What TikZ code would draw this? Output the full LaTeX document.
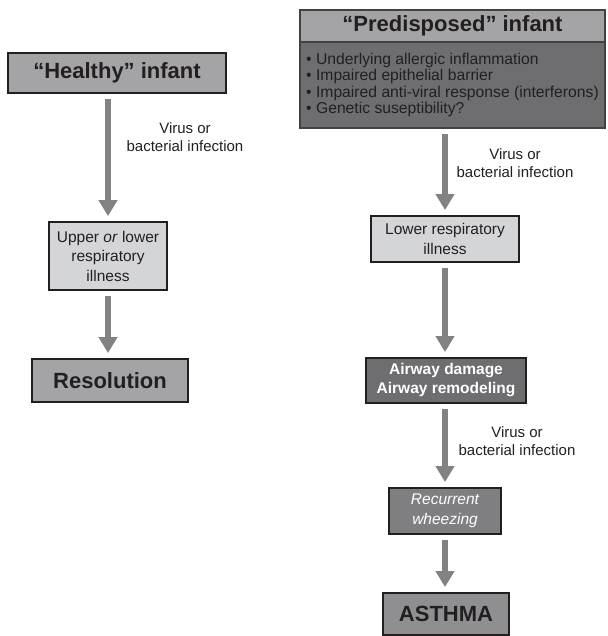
\documentclass[tikz,border=0pt]{standalone}
\usepackage{fontspec}
\setmainfont{Liberation Sans}
\usetikzlibrary{arrows.meta,positioning}
\definecolor{ink}{HTML}{231F20}
\definecolor{arrowgray}{HTML}{828285}
\definecolor{midgray}{HTML}{A4A4A7}
\definecolor{lightgray}{HTML}{D4D5D7}
\definecolor{darkgray}{HTML}{6E6E71}
\definecolor{wheezegray}{HTML}{7F7F82}
\definecolor{asthmagray}{HTML}{8F8F92}
\tikzset{
  box/.style={draw=ink,line width=1.8pt,align=center,inner sep=2pt,text=ink,
    font=\fontsize{15.5}{19.5}\selectfont},
  headbox/.style={box,font=\bfseries\fontsize{22}{26}\selectfont},
  flow/.style={draw=arrowgray,line width=6.5pt,-{Triangle[width=18pt,length=16pt]},
    shorten <=5pt,shorten >=5pt},
  infect/.style={align=center,text=ink,font=\fontsize{15}{18}\selectfont}
}

\begin{document}
\begin{tikzpicture}[x=1pt,y=-1pt]
        \useasboundingbox (0,0) rectangle (607,636);
        % healthy infant
        \node[headbox,fill=midgray,minimum width=218pt,minimum height=40pt] (healthy) at (117,73) {``Healthy'' infant};
        \node[box,fill=lightgray,minimum width=118pt,minimum height=68pt] (upper) at (108,256) {Upper \textit{or} lower\\respiratory\\illness};
        \node[headbox,fill=midgray,minimum width=156pt,minimum height=43pt] (resol) at (110,380.5) {Resolution};
        \node[infect] (virusa) at (185,137) {Virus or\\bacterial infection};
        % predisposed infant
        \node[headbox,draw=ink!85,fill=midgray,minimum width=305pt,minimum height=32pt] (pre) at (452.5,26) {``Predisposed'' infant};
        \node[box,draw=ink!85,fill=darkgray,minimum width=305pt,minimum height=86pt,
              inner xsep=2pt,align=left,font=\fontsize{15.7}{16.4}\selectfont] (prelist) at (452.5,85)
              {\textbullet\ Underlying allergic inflammation\\
               \textbullet\ Impaired epithelial barrier\\
               \textbullet\ Impaired anti-viral response (interferons)\\
               \textbullet\ Genetic suseptibility?};
        \node[box,fill=lightgray,minimum width=148pt,minimum height=46pt] (lower) at (445,239) {Lower respiratory\\illness};
        \node[box,fill=darkgray,text=white,minimum width=160pt,minimum height=45pt,
              font=\bfseries\fontsize{15.5}{19}\selectfont] (airway) at (446,380.5) {Airway damage\\Airway remodeling};
        \node[box,fill=wheezegray,text=white,minimum width=112pt,minimum height=46pt,
              font=\itshape\fontsize{15.5}{20}\selectfont] (wheeze) at (445,511) {Recurrent\\wheezing};
        \node[headbox,fill=asthmagray,minimum width=126pt,minimum height=42pt] (asthma) at (446,614) {ASTHMA};
        \node[infect] (virusb) at (515,163) {Virus or\\bacterial infection};
        \node[infect] (virusc) at (517,441) {Virus or\\bacterial infection};
        % arrows
        \draw[flow] (upper |- healthy.south) -- (upper.north);
        \draw[flow] (upper.south) -- (upper |- resol.north);
        \draw[flow] (lower |- prelist.south) -- (lower.north);
        \draw[flow] (lower.south) -- (lower |- airway.north);
        \draw[flow] (lower |- airway.south) -- (lower |- wheeze.north);
        \draw[flow] (lower |- wheeze.south) -- (lower |- asthma.north);
\end{tikzpicture}
\end{document}
